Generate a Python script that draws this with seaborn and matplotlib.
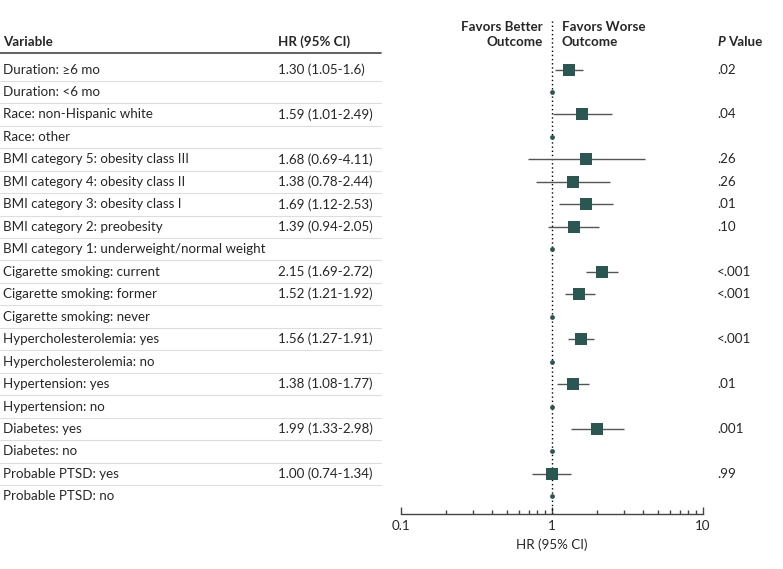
import matplotlib
matplotlib.use("Agg")
import matplotlib.pyplot as plt
import matplotlib.transforms as mtransforms
from matplotlib.ticker import LogLocator, FixedLocator, FixedFormatter
import numpy as np
import pandas as pd
import seaborn as sns

# rows of the table, top to bottom
variables = [
    "Duration: \u22656 mo", "Duration: <6 mo",
    "Race: non-Hispanic white", "Race: other",
    "BMI category 5: obesity class III", "BMI category 4: obesity class II",
    "BMI category 3: obesity class I", "BMI category 2: preobesity",
    "BMI category 1: underweight/normal weight",
    "Cigarette smoking: current", "Cigarette smoking: former", "Cigarette smoking: never",
    "Hypercholesterolemia: yes", "Hypercholesterolemia: no",
    "Hypertension: yes", "Hypertension: no",
    "Diabetes: yes", "Diabetes: no",
    "Probable PTSD: yes", "Probable PTSD: no",
]
hr = [1.30, 1.0, 1.59, 1.0, 1.68, 1.38, 1.69, 1.39, 1.0, 2.15, 1.52, 1.0,
      1.56, 1.0, 1.38, 1.0, 1.99, 1.0, 1.00, 1.0]
ci_low = [1.05, None, 1.01, None, 0.69, 0.78, 1.12, 0.94, None, 1.69, 1.21, None,
          1.27, None, 1.08, None, 1.33, None, 0.74, None]
ci_high = [1.6, None, 2.49, None, 4.11, 2.44, 2.53, 2.05, None, 2.72, 1.92, None,
           1.91, None, 1.77, None, 2.98, None, 1.34, None]
hr_text = ["1.30 (1.05-1.6)", "", "1.59 (1.01-2.49)", "", "1.68 (0.69-4.11)",
           "1.38 (0.78-2.44)", "1.69 (1.12-2.53)", "1.39 (0.94-2.05)", "",
           "2.15 (1.69-2.72)", "1.52 (1.21-1.92)", "", "1.56 (1.27-1.91)", "",
           "1.38 (1.08-1.77)", "", "1.99 (1.33-2.98)", "", "1.00 (0.74-1.34)", ""]
p_values = [".02", "", ".04", "", ".26", ".26", ".01", ".10", "", "<.001", "<.001", "",
            "<.001", "", ".01", "", ".001", "", ".99", ""]

sns.set_style("white")
plt.rcParams["font.family"] = ["Lato", "DejaVu Sans"]

W, H = 783, 569
TEAL = "#2b5753"
FS = 9.6

df = pd.DataFrame({"var": variables, "hr": hr, "lo": ci_low, "hi": ci_high})
df["row"] = np.arange(len(df))
df["ref"] = df["lo"].isna()

fig = plt.figure(figsize=(W / 100, H / 100), dpi=100)
ax = fig.add_axes([401 / W, 55 / H, 302 / W, 494 / H])

y0, dy = 69.5, 22.47
ax.set_xscale("log")
ax.set_xlim(0.1, 10)
ax.set_ylim((514 - y0) / dy, (20 - y0) / dy)

ax.axvline(1, color="black", lw=1, ls=(0, (1, 2)), zorder=1)

est = df[~df["ref"]]
ax.hlines(est["row"], est["lo"], est["hi"], color="#555555", lw=1, zorder=2)
sns.scatterplot(data=est, x="hr", y="row", marker="s", s=75, color=TEAL,
                edgecolor=TEAL, linewidth=0, ax=ax, zorder=3)
sns.scatterplot(data=df[df["ref"]], x="hr", y="row", marker="o", s=12, color=TEAL,
                edgecolor=TEAL, linewidth=0, ax=ax, zorder=3)

for s in ["top", "left", "right"]:
    ax.spines[s].set_visible(False)
ax.spines["bottom"].set_color("#444444")
ax.spines["bottom"].set_linewidth(1)
ax.set_yticks([])
ax.set_ylabel("")
ax.xaxis.set_major_locator(FixedLocator([0.1, 1, 10]))
ax.xaxis.set_major_formatter(FixedFormatter(["0.1", "1", "10"]))
ax.xaxis.set_minor_locator(LogLocator(base=10, subs=np.arange(2, 10)))
ax.tick_params(axis="x", which="major", direction="in", length=5, width=1,
               color="#444444", labelsize=FS, pad=4, bottom=True)
ax.tick_params(axis="x", which="minor", direction="in", length=3, width=1,
               color="#444444", bottom=True)
ax.set_xlabel("HR (95% CI)", fontsize=FS, labelpad=5)

tr = mtransforms.blended_transform_factory(fig.transFigure, ax.transData)
def yd(px):
    return (px - y0) / dy

# table
ax.text(3 / W, yd(42), "Variable", transform=tr, fontsize=FS, fontweight="bold",
        va="center", ha="left", clip_on=False)
ax.text(278 / W, yd(42), "HR (95% CI)", transform=tr, fontsize=FS, fontweight="bold",
        va="center", ha="left", clip_on=False)
ax.plot([0, 381 / W], [yd(52.5)] * 2, transform=tr, color="#555555", lw=1.3, clip_on=False)
for i, (v, t, p) in enumerate(zip(variables, hr_text, p_values)):
    ax.text(3 / W, i, v, transform=tr, fontsize=FS, va="center", ha="left", clip_on=False)
    ax.text(278 / W, i, t, transform=tr, fontsize=FS, va="center", ha="left", clip_on=False)
    ax.text(717 / W, i, p, transform=tr, fontsize=FS, va="center", ha="left", clip_on=False)
    if i < len(variables) - 1:
        ax.plot([0, 381 / W], [i + 0.5] * 2, transform=tr, color="#dddddd", lw=0.8,
                clip_on=False)

# headers over the forest
ax.text(543 / W, yd(27), "Favors Better", transform=tr, fontsize=FS, fontweight="bold",
        va="center", ha="right", clip_on=False)
ax.text(543 / W, yd(42), "Outcome", transform=tr, fontsize=FS, fontweight="bold",
        va="center", ha="right", clip_on=False)
ax.text(562 / W, yd(27), "Favors Worse", transform=tr, fontsize=FS, fontweight="bold",
        va="center", ha="left", clip_on=False)
ax.text(562 / W, yd(42), "Outcome", transform=tr, fontsize=FS, fontweight="bold",
        va="center", ha="left", clip_on=False)
ax.text(717 / W, yd(42), "P", transform=tr, fontsize=FS, fontweight="bold",
        fontstyle="italic", va="center", ha="left", clip_on=False)
ax.text(728 / W, yd(42), "Value", transform=tr, fontsize=FS, fontweight="bold",
        va="center", ha="left", clip_on=False)

fig.savefig("out.png", dpi=100)
plt.close(fig)
